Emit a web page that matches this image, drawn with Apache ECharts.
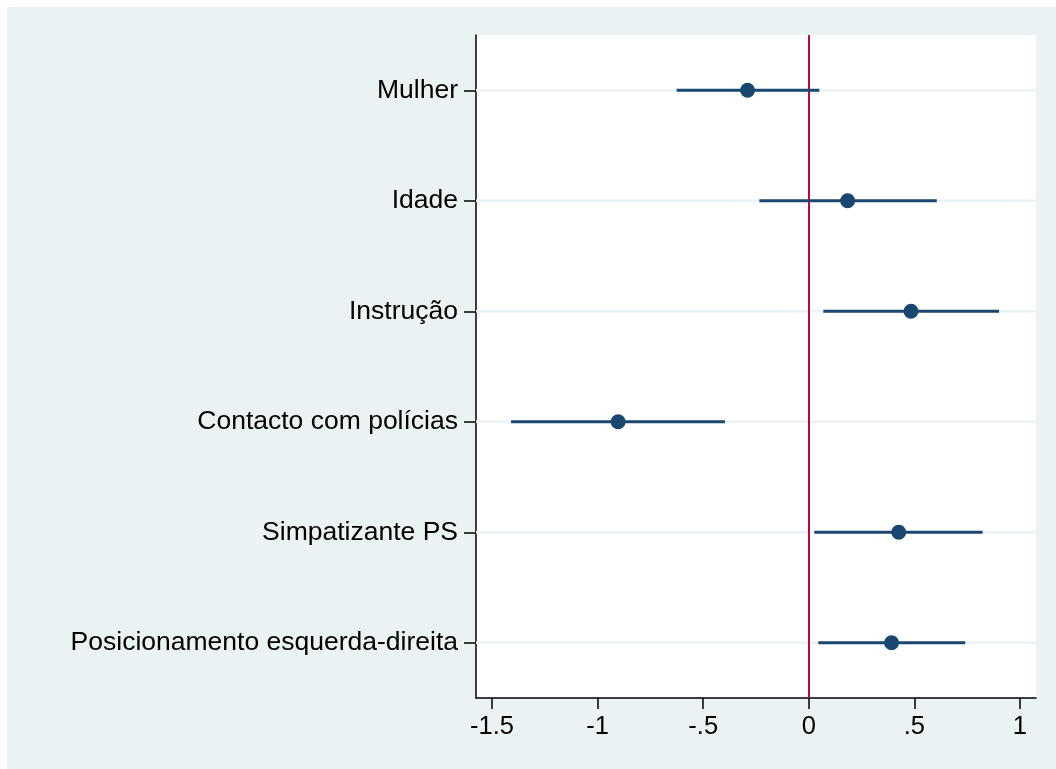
<!DOCTYPE html>
<html>
<head>
<meta charset="utf-8">
<script src="https://cdn.jsdelivr.net/npm/echarts@6/dist/echarts.min.js"></script>
<style>
  html, body { margin: 0; padding: 0; background: #ffffff; }
  #chart { position: absolute; left: 7px; top: 7px; width: 1049px; height: 762px; }
</style>
</head>
<body>
<div id="chart"></div>
<script>
// Coefficient estimates with 95% confidence intervals
const categories = [
  'Mulher',
  'Idade',
  'Instrução',
  'Contacto com polícias',
  'Simpatizante PS',
  'Posicionamento esquerda-direita'
];
const estimates = [-0.29, 0.184, 0.484, -0.903, 0.426, 0.392];
const ciLow     = [-0.626, -0.234, 0.069, -1.41, 0.026, 0.045];
const ciHigh    = [0.05, 0.606, 0.901, -0.397, 0.823, 0.741];
const xTicks    = [-1.5, -1, -0.5, 0, 0.5, 1];

const navy = '#1a476f';
const cranberry = '#c10534';
const bg = '#eaf2f3';
const font = '"Liberation Sans", Arial, Helvetica, sans-serif';

function fmtTick(v) {
  const s = String(v);
  return s.replace(/^0\./, '.').replace(/^-0\./, '-.');
}

const chart = echarts.init(document.getElementById('chart'), null, { renderer: 'canvas' });

chart.setOption({
  backgroundColor: bg,
  animation: false,
  grid: {
    left: 469, right: 20, top: 28, bottom: 71,
    show: true, backgroundColor: '#ffffff', borderWidth: 0
  },
  xAxis: {
    type: 'value',
    min: -1.576,
    max: 1.076,
    axisLine: { show: true, onZero: false, lineStyle: { color: '#000', width: 1.5 } },
    axisTick: { show: true, length: 11, customValues: xTicks, lineStyle: { color: '#000', width: 1.5 } },
    axisLabel: {
      customValues: xTicks,
      formatter: fmtTick,
      color: '#000', fontSize: 25.5, fontFamily: font, margin: 16
    },
    splitLine: { show: false }
  },
  yAxis: {
    type: 'category',
    data: categories,
    inverse: true,
    boundaryGap: true,
    axisLine: { show: true, onZero: false, lineStyle: { color: '#000', width: 1.5 } },
    axisTick: { show: true, alignWithLabel: true, length: 12, lineStyle: { color: '#000', width: 1.5 } },
    axisLabel: { color: '#000', fontSize: 26.5, fontFamily: font, margin: 18 },
    splitLine: { show: false }
  },
  series: [
    {
      // horizontal reference lines at each coefficient row
      type: 'custom',
      silent: true,
      z: 1,
      data: categories.map((c, i) => [i]),
      renderItem: function (params, api) {
        const y = api.coord([0, api.value(0)])[1];
        const cs = params.coordSys;
        return {
          type: 'line',
          shape: { x1: cs.x, y1: y, x2: cs.x + cs.width, y2: y },
          style: { stroke: bg, lineWidth: 2.5 }
        };
      }
    },
    {
      // confidence interval bars
      type: 'custom',
      z: 3,
      data: categories.map((c, i) => [i, ciLow[i], ciHigh[i]]),
      encode: { x: [1, 2], y: 0 },
      renderItem: function (params, api) {
        const a = api.coord([api.value(1), api.value(0)]);
        const b = api.coord([api.value(2), api.value(0)]);
        return {
          type: 'line',
          shape: { x1: a[0], y1: a[1], x2: b[0], y2: b[1] },
          style: { stroke: navy, lineWidth: 3 }
        };
      }
    },
    {
      type: 'scatter',
      z: 4,
      symbol: 'circle',
      symbolSize: 15,
      itemStyle: { color: navy, opacity: 1 },
      data: categories.map((c, i) => [estimates[i], i]),
      markLine: {
        silent: true,
        symbol: ['none', 'none'],
        label: { show: false },
        lineStyle: { color: cranberry, width: 2, type: 'solid' },
        data: [{ xAxis: 0 }],
        z: 2
      }
    }
  ]
});
</script>
</body>
</html>
